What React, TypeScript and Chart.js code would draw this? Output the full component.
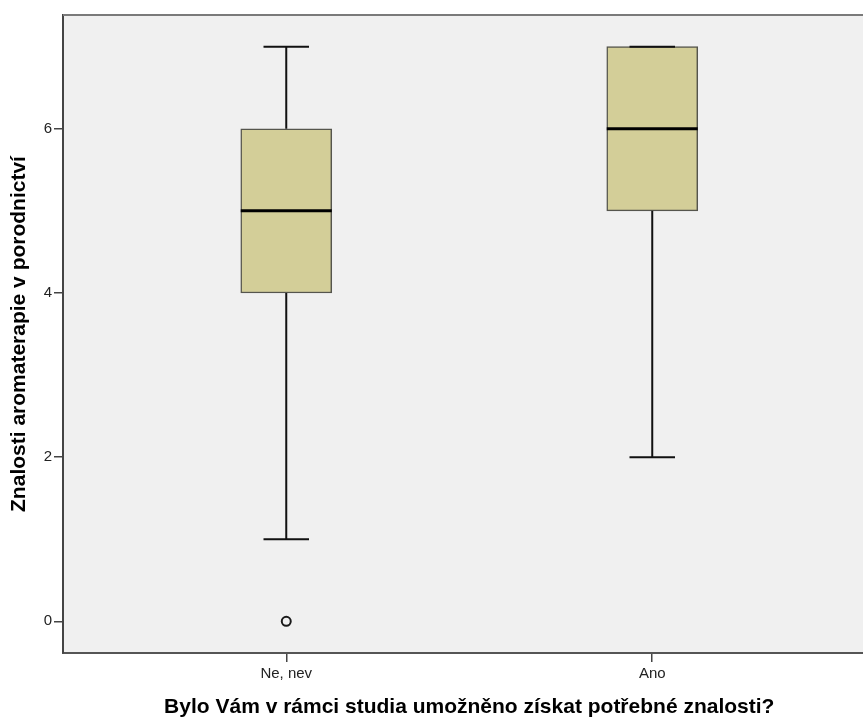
import React, { useEffect, useRef } from "react";
import { Chart, registerables } from "chart.js";

Chart.register(...registerables);

// ---- data ----
const categories = ["Ne, nev", "Ano"];
const categoryPositions = [1, 2];
const whiskerLow = [1, 2];
const quartile1 = [4, 5];
const medians = [5, 6];
const quartile3 = [6, 7];
const whiskerHigh = [7, 7];
const outliers = [[0], []];
const yTicks = [0, 2, 4, 6];

const xTitle = "Bylo Vám v rámci studia umožněno získat potřebné znalosti?";
const yTitle = "Znalosti aromaterapie v porodnictví";

const FONT = "'Liberation Sans', Arial, Helvetica, sans-serif";
const BOX_WIDTH = 91;

const boxPlugin = {
  id: "boxExtras",
  beforeDraw(chart: any) {
    const { ctx, chartArea } = chart;
    ctx.save();
    ctx.fillStyle = "#f0f0f0";
    ctx.fillRect(chartArea.left, chartArea.top, chartArea.right - chartArea.left, chartArea.bottom - chartArea.top);
    ctx.restore();
  },
  afterDatasetsDraw(chart: any) {
    const { ctx, chartArea } = chart;
    const xs = chart.scales.x;
    const ys = chart.scales.y;
    ctx.save();
    ctx.lineCap = "butt";
    categoryPositions.forEach((pos, i) => {
      const cx = xs.getPixelForValue(pos);
      const yLow = ys.getPixelForValue(whiskerLow[i]);
      const yHigh = ys.getPixelForValue(whiskerHigh[i]);
      const yQ1 = ys.getPixelForValue(quartile1[i]);
      const yQ3 = ys.getPixelForValue(quartile3[i]);
      const yMed = ys.getPixelForValue(medians[i]);
      ctx.strokeStyle = "#111";
      ctx.lineWidth = 2;
      ctx.beginPath();
      ctx.moveTo(cx, yQ3);
      ctx.lineTo(cx, yHigh);
      ctx.moveTo(cx, yQ1);
      ctx.lineTo(cx, yLow);
      ctx.stroke();
      const half = BOX_WIDTH / 4;
      ctx.beginPath();
      ctx.moveTo(cx - half, yHigh);
      ctx.lineTo(cx + half, yHigh);
      ctx.moveTo(cx - half, yLow);
      ctx.lineTo(cx + half, yLow);
      ctx.stroke();
      ctx.lineWidth = 3;
      ctx.strokeStyle = "#000";
      ctx.beginPath();
      ctx.moveTo(cx - BOX_WIDTH / 2, yMed);
      ctx.lineTo(cx + BOX_WIDTH / 2, yMed);
      ctx.stroke();
    });
    // top frame line
    ctx.strokeStyle = "#7a7a7a";
    ctx.lineWidth = 2;
    ctx.beginPath();
    ctx.moveTo(chartArea.left, chartArea.top);
    ctx.lineTo(chartArea.right, chartArea.top);
    ctx.stroke();
    ctx.restore();
  },
};

export default function App() {
  const ref = useRef<HTMLCanvasElement | null>(null);

  useEffect(() => {
    if (!ref.current) return;
    const outlierPoints: { x: number; y: number }[] = [];
    outliers.forEach((list, i) => list.forEach((v) => outlierPoints.push({ x: categoryPositions[i], y: v })));

    const chart = new Chart(ref.current, {
      type: "bar",
      data: {
        datasets: [
          {
            type: "bar",
            label: "box",
            data: categoryPositions.map((p, i) => ({ x: p, y: [quartile1[i], quartile3[i]] })) as any,
            backgroundColor: "#d3ce98",
            borderColor: "#55554d",
            borderWidth: 1.5,
            borderSkipped: false,
            barThickness: BOX_WIDTH,
          } as any,
          {
            type: "scatter",
            label: "outliers",
            data: outlierPoints,
            pointStyle: "circle",
            pointRadius: 4.5,
            pointBorderWidth: 2,
            borderColor: "#1a1a1a",
            backgroundColor: "rgba(0,0,0,0)",
          } as any,
        ],
      },
      options: {
        responsive: false,
        maintainAspectRatio: false,
        devicePixelRatio: 1,
        animation: false,
        layout: { padding: { top: 15, left: 0, right: 0, bottom: 0 } },
        plugins: {
          legend: { display: false },
          tooltip: { enabled: false },
        },
        scales: {
          x: {
            type: "linear",
            min: 0.39,
            max: 2.61,
            offset: false,
            afterBuildTicks: (scale: any) => {
              scale.ticks = categoryPositions.map((v) => ({ value: v }));
            },
            afterFit: (scale: any) => {
              scale.height = 67;
            },
            ticks: {
              autoSkip: false,
              maxRotation: 0,
              padding: 3,
              color: "#222",
              font: { family: FONT, size: 15 },
              callback: (value: any) => {
                const idx = categoryPositions.indexOf(Number(value));
                return idx >= 0 ? categories[idx] : "";
              },
            },
            grid: { offset: false, drawOnChartArea: false, drawTicks: true, tickLength: 9, color: "#444", lineWidth: 1.5 },
            border: { display: true, color: "#555", width: 2 },
            title: {
              display: true,
              text: xTitle,
              color: "#000",
              font: { family: FONT, size: 21, weight: "bold" },
              padding: { top: 0, bottom: 0 },
            },
          },
          y: {
            type: "linear",
            min: -0.386,
            max: 7.386,
            afterBuildTicks: (scale: any) => {
              scale.ticks = yTicks.map((v) => ({ value: v }));
            },
            afterFit: (scale: any) => {
              scale.width = 63;
            },
            ticks: {
              padding: 2,
              color: "#222",
              font: { family: FONT, size: 15 },
            },
            grid: { offset: false, drawOnChartArea: false, drawTicks: true, tickLength: 9, color: "#444", lineWidth: 1.5 },
            border: { display: true, color: "#444", width: 2 },
            title: {
              display: true,
              text: yTitle,
              color: "#000",
              font: { family: FONT, size: 21, weight: "bold" },
              padding: { top: 7, bottom: 0 },
            },
          },
        },
      },
      plugins: [boxPlugin],
    });
    return () => chart.destroy();
  }, []);

  return (
    <div style={{ position: "fixed", left: 0, top: 0, width: 863, height: 717, overflow: "hidden", background: "#fff" }}>
      <canvas ref={ref} width={882} height={720} style={{ display: "block", width: 882, height: 720 }} />
    </div>
  );
}
